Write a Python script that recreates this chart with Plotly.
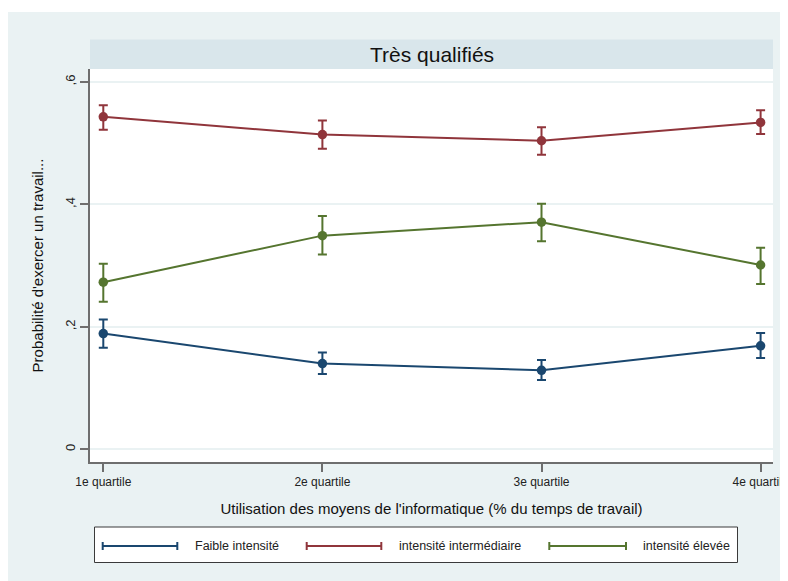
import plotly.graph_objects as go

# ---- data ----
categories = ["1e quartile", "2e quartile", "3e quartile", "4e quartile"]
series_names = ["Faible intensité", "intensité intermédiaire", "intensité élevée"]

faible = [0.189, 0.140, 0.129, 0.169]
faible_lo = [0.166, 0.123, 0.113, 0.149]
faible_hi = [0.212, 0.158, 0.146, 0.190]

interm = [0.543, 0.514, 0.504, 0.534]
interm_lo = [0.522, 0.491, 0.481, 0.515]
interm_hi = [0.562, 0.537, 0.526, 0.554]

elevee = [0.273, 0.349, 0.371, 0.301]
elevee_lo = [0.241, 0.318, 0.340, 0.270]
elevee_hi = [0.303, 0.381, 0.401, 0.329]

y_tickvals = [0, 0.2, 0.4, 0.6]
y_ticktext = ["0", ",2", ",4", ",6"]

title_text = "Très qualifiés"
x_title = "Utilisation des moyens de l'informatique (% du temps de travail)"
y_title = "Probabilité d'exercer un travail..."

colors = ["#1a476f", "#90353b", "#55752f"]

# ---- layout geometry (figure sits at page offset 8,8) ----
OFF = 8
W, H = 780, 573
ML, MR, MT, MB = 82, 15, 61, 119
PW = W - ML - MR
PH = H - MT - MB


def px(x):  # screenshot x -> paper
    return (x - OFF - ML) / PW


def py(y):  # screenshot y -> paper
    return (H - MB - (y - OFF)) / PH


FONT = "Arial, Liberation Sans, sans-serif"
BG = "#eaf2f3"

fig = go.Figure()
series = [
    (series_names[0], faible, faible_lo, faible_hi, colors[0]),
    (series_names[1], interm, interm_lo, interm_hi, colors[1]),
    (series_names[2], elevee, elevee_lo, elevee_hi, colors[2]),
]
for name, v, lo, hi, c in series:
    fig.add_trace(go.Scatter(
        x=categories, y=v, name=name, mode="lines+markers",
        line=dict(color=c, width=2),
        marker=dict(color=c, size=9.5),
        error_y=dict(type="data", symmetric=False,
                     array=[h - m for h, m in zip(hi, v)],
                     arrayminus=[m - l for m, l in zip(v, lo)],
                     color=c, thickness=2, width=4.5),
        showlegend=False,
    ))

shapes = []
# thin white strip at the very top
shapes.append(dict(type="rect", xref="paper", yref="paper",
                   x0=px(0), x1=px(800), y0=py(12), y1=py(0),
                   fillcolor="white", line=dict(width=0), layer="below"))
# title strip
shapes.append(dict(type="rect", xref="paper", yref="paper",
                   x0=0, x1=1, y0=1, y1=py(39.5),
                   fillcolor="#d9e6eb", line=dict(width=0), layer="below"))
# legend box
shapes.append(dict(type="rect", xref="paper", yref="paper",
                   x0=px(94.5), x1=px(737.5), y0=py(562.5), y1=py(527),
                   fillcolor="white", line=dict(color="#3a3a3a", width=1)))

annotations = [dict(text=title_text, x=0.5, y=py(54.5), xref="paper", yref="paper",
                    showarrow=False, xanchor="center", yanchor="middle",
                    font=dict(family=FONT, size=21, color="#111111"))]

leg_sym = [(102.7, 177.3), (306.7, 381.3), (549.3, 626.0)]
leg_txt = [192.7, 397.0, 640.7]
ly = 546
for (x0, x1), tx, name, c in zip(leg_sym, leg_txt, series_names, colors):
    shapes.append(dict(type="line", xref="paper", yref="paper",
                       x0=px(x0), x1=px(x1), y0=py(ly), y1=py(ly),
                       line=dict(color=c, width=2)))
    for xx in (x0, x1):
        shapes.append(dict(type="line", xref="paper", yref="paper",
                           x0=px(xx), x1=px(xx), y0=py(ly - 4), y1=py(ly + 4),
                           line=dict(color=c, width=2)))
    annotations.append(dict(text=name, x=px(tx), y=py(ly), xref="paper", yref="paper",
                            showarrow=False, xanchor="left", yanchor="middle",
                            font=dict(family=FONT, size=12.5, color="#222222")))

fig.update_layout(
    width=W, height=H,
    margin=dict(l=ML, r=MR, t=MT, b=MB, pad=0, autoexpand=False),
    paper_bgcolor=BG, plot_bgcolor="white",
    font=dict(family=FONT, color="#222222"),
    shapes=shapes, annotations=annotations,
    showlegend=False,
)
fig.update_xaxes(
    type="category", range=[-0.0607, 3.0566], automargin=False,
    showgrid=False, zeroline=False,
    showline=True, linecolor="#6e6e6e", linewidth=1.5,
    ticks="outside", ticklen=8, tickcolor="#6e6e6e", tickwidth=1.5,
    tickfont=dict(family=FONT, size=12, color="#222222"),
    title=dict(text=x_title, font=dict(family=FONT, size=15, color="#111111"), standoff=15),
)
fig.update_yaxes(
    range=[-0.0208, 0.6212], automargin=False,
    tickvals=y_tickvals, ticktext=y_ticktext, tickangle=-90,
    showgrid=True, gridcolor=BG, gridwidth=2, zeroline=False,
    showline=True, linecolor="#6e6e6e", linewidth=1.5,
    ticks="outside", ticklen=8, tickcolor="#6e6e6e", tickwidth=1.5,
    tickfont=dict(family=FONT, size=13, color="#222222"),
    title=dict(text=y_title, font=dict(family=FONT, size=15, color="#111111"), standoff=16),
)

fig.write_html("out.html", default_width="780px", default_height="573px")
